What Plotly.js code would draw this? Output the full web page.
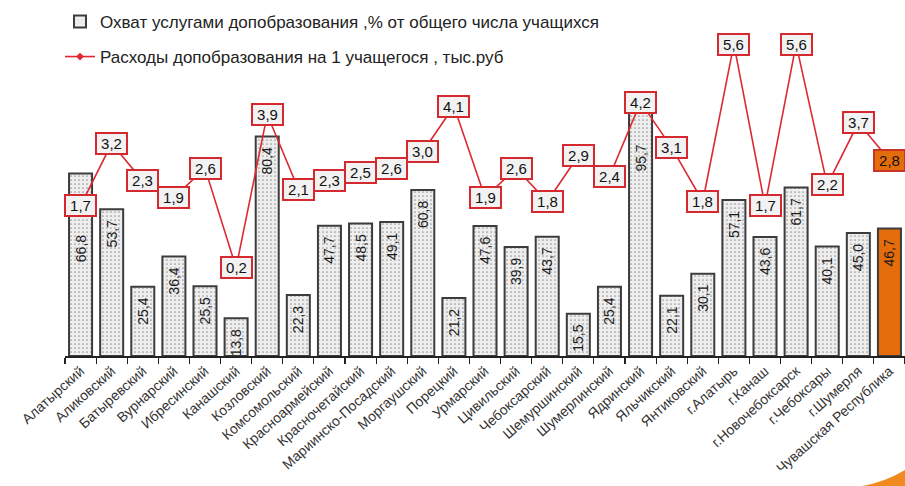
<!DOCTYPE html>
<html>
<head>
<meta charset="utf-8">
<script src="https://cdn.plot.ly/plotly-3.0.1.min.js"></script>
<style>html,body{margin:0;padding:0;background:#fff;}#chart{width:905px;height:486px;}</style>
</head>
<body>
<div id="chart"></div>
<script>
const categories = ["Алатырский","Аликовский","Батыревский","Вурнарский","Ибресинский","Канашский","Козловский","Комсомольский","Красноармейский","Красночетайский","Мариинско-Посадский","Моргаушский","Порецкий","Урмарский","Цивильский","Чебоксарский","Шемуршинский","Шумерлинский","Ядринский","Яльчикский","Янтиковский","г.Алатырь","г.Канаш","г.Новочебоксарск","г.Чебоксары","г.Шумерля","Чувашская Республика"];
const coverage = [66.8,53.7,25.4,36.4,25.5,13.8,80.4,22.3,47.7,48.5,49.1,60.8,21.2,47.6,39.9,43.7,15.5,25.4,95.7,22.1,30.1,57.1,43.6,61.7,40.1,45.0,46.7];
const spending = [1.7,3.2,2.3,1.9,2.6,0.2,3.9,2.1,2.3,2.5,2.6,3.0,4.1,1.9,2.6,1.8,2.9,2.4,4.2,3.1,1.8,5.6,1.7,5.6,2.2,3.7,2.8];
const seriesNames = ["Охват услугами допобразования ,% от общего числа учащихся","Расходы допобразования на 1 учащегося , тыс.руб"];

const FONT = "Liberation Sans, Arial, sans-serif";
const last = categories.length - 1;
const barColors = categories.map((c,i)=> i===last ? "#E46C0A" : "#eeeeee");
const barPatterns = categories.map((c,i)=> i===last ? "" : ".");
// label gap from bar top (in non-breaking spaces); larger where the line label box covers the bar top
const NB = "\u00a0";
const labelGap = categories.map((c,i)=> i===0 ? 15 : (i===18 ? 12 : 2));
const barTexts = labelGap.map(n => "%{y:.1f}" + NB.repeat(n));

const W = 905, H = 486, T = 10, B = 130;
const PH = H - T - B;
const px2x = px => px / W;
const py2y = py => (H - B - py) / PH;

const bars = {
  type: "bar", x: categories, y: coverage, name: seriesNames[0],
  yaxis: "y", legend: "legend", showlegend: true,
  width: 0.74,
  marker: {color: barColors, line: {color: "#3c3c3c", width: 2},
           pattern: {shape: barPatterns, fillmode: "overlay", fgcolor: "#d2d2d2", size: 4, solidity: 0.15}},
  texttemplate: barTexts, textposition: "inside", insidetextanchor: "end",
  textangle: -90, textfont: {family: FONT, size: 14, color: "#1a1a1a"},
  constraintext: "none", hoverinfo: "x+y"
};
const line = {
  type: "scatter", mode: "lines+markers", x: categories, y: spending, name: seriesNames[1],
  yaxis: "y2", legend: "legend2", showlegend: true,
  line: {color: "#dc2a33", width: 1.6},
  marker: {symbol: "diamond", size: 6, color: "#dc2a33"},
  cliponaxis: false
};

const annotations = spending.map((v,i)=>({
  x: categories[i], y: v, xref: "x", yref: "y2", showarrow: false,
  text: v.toFixed(1).replace(".", ","),
  font: {family: FONT, size: 15, color: "#111"},
  bgcolor: i===last ? "#E46C0A" : "#f2f2f2",
  bordercolor: i===last ? "#c8332a" : "#d6282f",
  borderwidth: 2, borderpad: 1, width: 27, height: 17
}));

const layout = {
  width: W, height: H,
  margin: {l: 0, r: 0, t: T, b: B},
  paper_bgcolor: "#ffffff", plot_bgcolor: "#ffffff",
  separators: ", ",
  showlegend: true,
  font: {family: FONT, color: "#222"},
  xaxis: {type: "category", domain: [65/W, 1], range: [-0.5, 26.5], showline: true, linecolor: "#222", linewidth: 1.5,
          ticks: "outside", tickson: "boundaries", ticklen: 6, tickcolor: "#222", tickwidth: 1.2,
          tickangle: -42, tickfont: {family: FONT, size: 14, color: "#333"}, showgrid: false, zeroline: false},
  yaxis: {range: [0, 126.7], visible: false, showgrid: false, zeroline: false, fixedrange: true},
  yaxis2: {range: [-1.932, 6.425], overlaying: "y", side: "right", visible: false, showgrid: false, zeroline: false},
  legend: {x: px2x(60), y: py2y(22), xanchor: "left", yanchor: "middle",
           bgcolor: "rgba(0,0,0,0)", font: {family: FONT, size: 17, color: "#222"}},
  legend2: {x: px2x(60), y: py2y(57), xanchor: "left", yanchor: "middle",
           bgcolor: "rgba(0,0,0,0)", font: {family: FONT, size: 17, color: "#222"}},
  annotations: annotations,
  shapes: [{type: "path", xref: "paper", yref: "paper", layer: "above",
            path: `M ${px2x(862)},${py2y(486)} Q ${px2x(885)},${py2y(482)} 1,${py2y(470)} L 1,${py2y(486)} Z`,
            fillcolor: "#F08A1E", line: {width: 0}}]
};

Plotly.newPlot("chart", [bars, line], layout, {displayModeBar: false, staticPlot: true});
</script>
</body>
</html>
